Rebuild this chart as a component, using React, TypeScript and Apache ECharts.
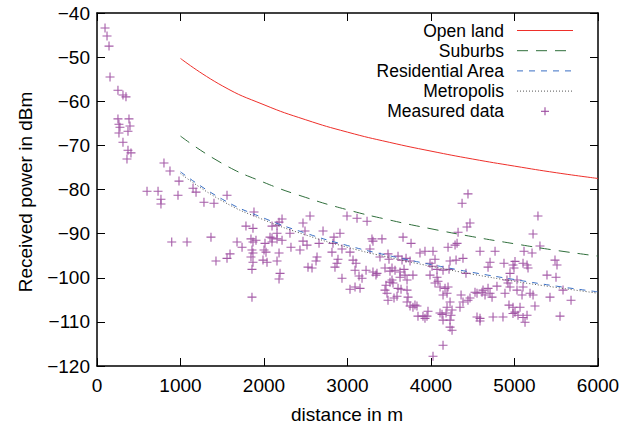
import React, { useEffect, useRef } from "react";
import * as echarts from "echarts";

// Model curves (distance in m, received power in dBm)
const modelDistance = [1000, 1500, 2000, 2500, 3000, 3500, 4000, 4500, 5000, 5500, 6000];
const openLand = [-50.3, -56.5, -60.8, -64.2, -67.0, -69.3, -71.3, -73.1, -74.7, -76.2, -77.5];
const suburbs = [-67.9, -74.1, -78.4, -81.8, -84.6, -86.9, -88.9, -90.7, -92.3, -93.8, -95.1];
const residential = [-76.0, -82.2, -86.5, -89.9, -92.7, -95.0, -97.0, -98.8, -100.4, -101.9, -103.2];
const metropolis = [-76.4, -82.6, -86.9, -90.3, -93.1, -95.4, -97.4, -99.2, -100.8, -102.2, -103.5];

// Measured data
const measuredDistance = [
  96, 120, 144, 156, 251, 311, 347, 251, 263, 275, 263, 383, 395, 371, 311, 371, 407, 359,
  802, 874, 982, 599, 731, 766, 766, 970, 895, 1150, 1186, 1281, 1401, 1557, 1078, 1365,
  1425, 1557, 1593, 1677, 1737, 1784, 1880, 1868, 1844, 1868, 1904, 1856, 1868, 1844, 1868,
  1856, 1856, 2012, 2000, 2024, 1988, 2036, 2096, 2072, 2096, 2156, 2180, 2216, 2156, 2216,
  2180, 2156, 2192, 2180, 2311, 2323, 2431, 2467, 2467, 2491, 2515, 2551, 2527, 2096, 2156,
  2575, 2635, 2623, 2659, 2707, 2814, 2826, 2838, 2850, 2874, 2886, 2910, 2934, 2934, 2994,
  3030, 3066, 3102, 3090, 3114, 3138, 3174, 3030, 3090, 3150, 3234, 3222, 3269, 3293, 3305,
  3353, 3389, 3341, 3413, 3449, 3461, 3473, 3485, 3497, 3509, 3533, 3545, 3557, 3593, 3605,
  3629, 3653, 3665, 3677, 3701, 3689, 3713, 3713, 3725, 3749, 3761, 3784, 3784, 3808, 3832,
  3844, 3868, 3904, 3928, 3952, 3964, 4012, 4024, 4048, 4072, 4072, 4084, 4108, 4144, 4168,
  4192, 4180, 4204, 4216, 4228, 4252, 4192, 4144, 4024, 4132, 4228, 4240, 4252, 4288, 4300,
  4204, 4312, 4324, 4360, 4372, 4383, 4383, 4419, 4431, 4443, 4467, 4467, 4527, 4551, 4587,
  4587, 4611, 4623, 4647, 4683, 4707, 4707, 4731, 4767, 4743, 4790, 4862, 4874, 4886, 4910,
  4922, 4934, 4946, 4982, 5006, 4994, 5030, 5042, 5066, 5090, 5102, 5114, 5126, 5150, 5162,
  5186, 5222, 5222, 5245, 5281, 5305, 5389, 5425, 5485, 5497, 5509, 5545, 5677, 5581,
  5006, 4946, 5030, 5150, 5102, 5210, 4982, 5102, 4587, 4683, 4551, 4982,
  3305, 3988, 3605, 3533, 3569, 3988, 4144, 3509, 3629, 4048, 3449, 3485, 3641, 3713, 3749,
  3928, 4108, 4144, 4228, 4228, 4347, 4443,
];
const measuredPower = [
  -43.4, -45.2, -47.5, -54.5, -57.5, -58.6, -59.0, -64.0, -65.2, -65.9, -67.2, -64.0, -65.6, -66.8, -69.3, -71.1, -71.7, -73.1,
  -74.0, -75.8, -78.1, -80.4, -80.4, -82.2, -83.3, -81.3, -91.9, -79.7, -80.6, -82.9, -83.1, -81.3, -91.9, -90.8,
  -96.2, -95.6, -94.6, -91.9, -93.1, -88.3, -85.1, -88.8, -91.2, -91.9, -91.5, -93.7, -94.4, -95.3, -96.5,
  -98.1, -104.4, -92.2, -93.7, -94.2, -96.0, -96.5, -91.9, -90.8, -88.3, -88.1, -87.4, -86.7, -89.9, -91.5,
  -94.4, -96.2, -99.0, -100.3, -89.9, -93.1, -93.7, -91.7, -87.6, -89.4, -92.6, -86.0, -97.6, -91.0, -91.2,
  -97.8, -95.3, -96.2, -92.2, -89.4, -94.2, -92.2, -90.8, -97.6, -96.7, -95.8, -89.9, -93.5, -100.1, -86.0,
  -94.2, -96.0, -96.7, -98.3, -86.5, -99.6, -100.1, -102.6, -102.1, -102.4, -87.2, -98.3, -93.5, -91.2, -98.7,
  -99.0, -95.3, -99.4, -91.2, -97.8, -101.7, -103.5, -94.6, -95.8, -98.5, -100.5, -101.2, -104.6, -104.2, -102.4,
  -98.7, -96.0, -90.8, -98.1, -95.6, -99.4, -100.5, -102.8, -104.4, -96.2, -92.2, -99.4, -106.7, -106.2, -106.4,
  -108.7, -94.4, -108.7, -94.0, -108.7, -107.6, -97.4, -94.0, -95.8, -98.1, -99.9, -100.8, -102.1, -103.9, -102.4,
  -103.5, -108.0, -93.1, -98.1, -96.2, -107.3, -106.7, -115.3, -117.8, -108.3, -109.6, -108.5, -111.9, -92.6, -96.0,
  -102.1, -92.2, -89.7, -103.9, -83.1, -105.5, -95.6, -99.0, -88.5, -81.0, -87.6, -104.6, -103.3, -108.9, -109.2,
  -94.0, -103.3, -102.8, -103.9, -97.6, -96.5, -103.5, -104.4, -94.0, -108.9, -101.9, -108.9, -96.7, -103.5, -100.5,
  -101.2, -106.2, -102.1, -97.1, -107.8, -97.8, -100.5, -108.5, -106.7, -103.9, -96.7, -94.0, -110.1, -108.5, -97.8,
  -103.5, -90.1, -103.9, -106.4, -86.0, -92.8, -99.4, -104.4, -96.0, -99.9, -97.1, -108.7, -105.1, -102.8,
  -96.3, -99.0, -102.8, -97.1, -102.1, -94.4, -108.1, -109.0, -109.8, -102.4, -103.5, -106.7,
  -91.7, -96.7, -95.1, -97.8, -98.3, -99.4, -98.3, -101.0, -99.9, -101.2, -102.8, -105.1, -102.6, -105.5, -106.4,
  -109.2, -108.0, -109.6, -111.2, -105.5, -106.7, -105.1,
];

const xTicks = [0, 1000, 2000, 3000, 4000, 5000, 6000];
const yTicks = [-120, -110, -100, -90, -80, -70, -60, -50, -40];

const legendNames = ["Open land", "Suburbs", "Residential Area", "Metropolis", "Measured data"];

const FONT = '"Liberation Sans", Arial, Helvetica, sans-serif';
const RED = "#ee2f2a";
const GREEN = "#2f6e3b";
const BLUE = "#3a6fc4";
const DOT = "#555555";
const PURPLE = "#9b4a9f";

const PLUS = "path://M0,5L10,5M5,0L5,10";

export default function App() {
  const ref = useRef<HTMLDivElement>(null);

  useEffect(() => {
    if (!ref.current) return;
    const chart = echarts.init(ref.current, null, { renderer: "svg" });

    const pair = (xs: number[], ys: number[]) => xs.map((x, i) => [x, ys[i]]);

    const axisCommon = {
      axisLine: { show: true, onZero: false, lineStyle: { color: "#000", width: 1.5 } },
      axisTick: { show: true, inside: true, length: 8, lineStyle: { color: "#000", width: 1 } },
      splitLine: { show: false },
    };

    const legendY = [30.5, 50.7, 70.9, 91.1, 111.3];
    const sampleX1 = 517;
    const sampleX2 = 573;
    const lineStyles = [
      { stroke: RED, lineWidth: 1 },
      { stroke: GREEN, lineWidth: 1, lineDash: [11, 8] },
      { stroke: BLUE, lineWidth: 1, lineDash: [6, 6] },
      { stroke: DOT, lineWidth: 1, lineDash: [1, 2] },
    ];
    const graphics: any[] = [];
    legendNames.forEach((name, i) => {
      graphics.push({
        type: "text",
        x: 504,
        y: legendY[i],
        style: {
          text: name,
          textAlign: "right",
          textVerticalAlign: "middle",
          font: `17.5px ${FONT}`,
          fill: "#000",
        },
      });
      if (i < 4) {
        graphics.push({
          type: "line",
          shape: { x1: sampleX1, y1: legendY[i], x2: sampleX2, y2: legendY[i] },
          style: lineStyles[i],
        });
      } else {
        graphics.push({
          type: "line",
          shape: { x1: 541, y1: legendY[i], x2: 549, y2: legendY[i] },
          style: { stroke: PURPLE, lineWidth: 1.1 },
        });
        graphics.push({
          type: "line",
          shape: { x1: 545, y1: legendY[i] - 4, x2: 545, y2: legendY[i] + 4 },
          style: { stroke: PURPLE, lineWidth: 1.1 },
        });
      }
    });
    graphics.push({
      type: "text",
      x: 347,
      y: 414,
      style: {
        text: "distance in m",
        textAlign: "center",
        textVerticalAlign: "middle",
        font: `19px ${FONT}`,
        fill: "#000",
      },
    });
    graphics.push({
      type: "text",
      x: 25,
      y: 192,
      rotation: Math.PI / 2,
      style: {
        text: "Received power in dBm",
        textAlign: "center",
        textVerticalAlign: "middle",
        font: `19px ${FONT}`,
        fill: "#000",
      },
    });

    chart.setOption({
      animation: false,
      backgroundColor: "#fff",
      grid: { left: 97, right: 26, top: 13, bottom: 64, containLabel: false },
      xAxis: [
        {
          type: "value",
          position: "bottom",
          min: xTicks[0],
          max: xTicks[xTicks.length - 1],
          interval: 1000,
          ...axisCommon,
          axisLabel: {
            show: true,
            margin: 10,
            color: "#000",
            fontSize: 19,
            fontFamily: FONT,
            formatter: (v: number) => String(v),
          },
        },
        {
          type: "value",
          position: "top",
          min: xTicks[0],
          max: xTicks[xTicks.length - 1],
          interval: 1000,
          ...axisCommon,
          axisLabel: { show: false },
        },
      ],
      yAxis: [
        {
          type: "value",
          position: "left",
          min: yTicks[0],
          max: yTicks[yTicks.length - 1],
          interval: 10,
          ...axisCommon,
          axisLabel: {
            show: true,
            margin: 7,
            color: "#000",
            fontSize: 19,
            fontFamily: FONT,
            formatter: (v: number) => (v < 0 ? "\u2212" + Math.abs(v) : String(v)),
          },
        },
        {
          type: "value",
          position: "right",
          min: yTicks[0],
          max: yTicks[yTicks.length - 1],
          interval: 10,
          ...axisCommon,
          axisLabel: { show: false },
        },
      ],
      series: [
        {
          name: legendNames[0],
          type: "line",
          data: pair(modelDistance, openLand),
          smooth: true,
          showSymbol: false,
          symbol: "none",
          lineStyle: { color: RED, width: 1 },
          z: 3,
        },
        {
          name: legendNames[1],
          type: "line",
          data: pair(modelDistance, suburbs),
          smooth: true,
          showSymbol: false,
          symbol: "none",
          lineStyle: { color: GREEN, width: 1, type: [11, 8] },
          z: 3,
        },
        {
          name: legendNames[2],
          type: "line",
          data: pair(modelDistance, residential),
          smooth: true,
          showSymbol: false,
          symbol: "none",
          lineStyle: { color: BLUE, width: 1, type: [6, 6] },
          z: 3,
        },
        {
          name: legendNames[3],
          type: "line",
          data: pair(modelDistance, metropolis),
          smooth: true,
          showSymbol: false,
          symbol: "none",
          lineStyle: { color: DOT, width: 1, type: [1, 2] },
          z: 3,
        },
        {
          name: legendNames[4],
          type: "scatter",
          data: pair(measuredDistance, measuredPower),
          symbol: PLUS,
          symbolSize: 9,
          itemStyle: { color: "rgba(0,0,0,0)", borderColor: PURPLE, borderWidth: 1.1, opacity: 0.9 },
          z: 2,
        },
      ],
      graphic: graphics,
    });

    return () => chart.dispose();
  }, []);

  return (
    <div
      ref={ref}
      style={{ position: "fixed", left: 0, top: 0, width: 624, height: 430, background: "#fff" }}
    />
  );
}
